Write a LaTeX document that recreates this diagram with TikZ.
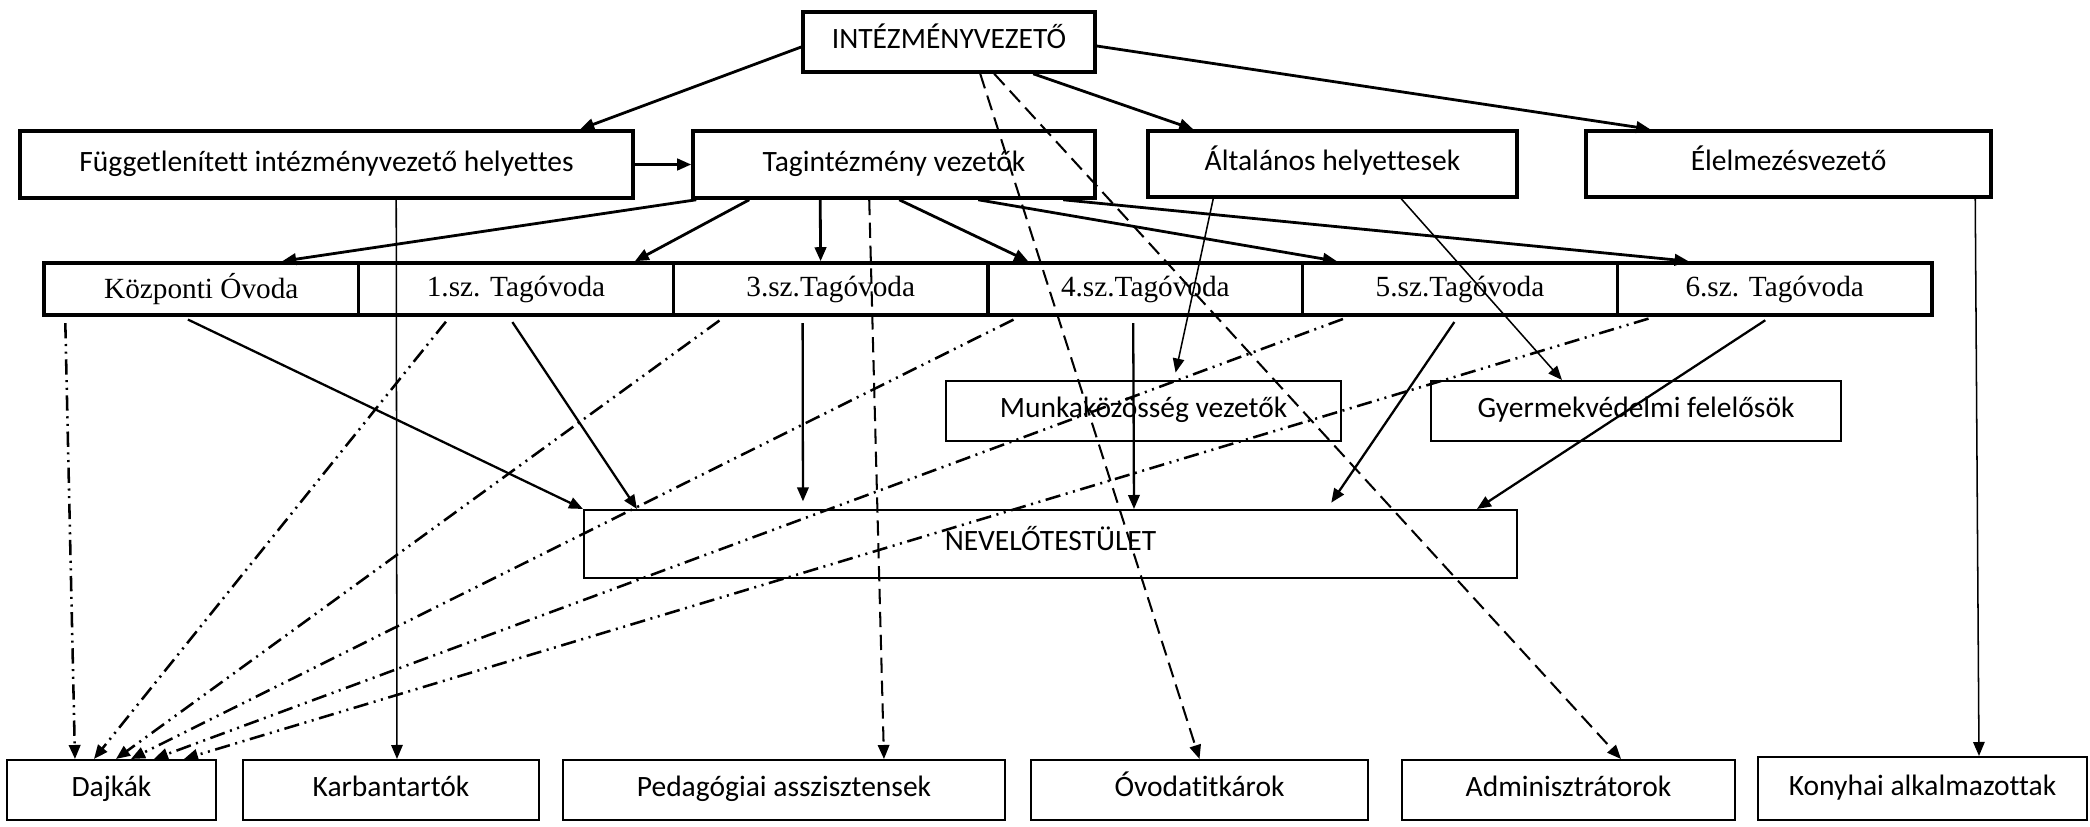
\documentclass[tikz,border=0pt]{standalone}
\usepackage{fontspec}
\setmainfont{Carlito}[Ligatures=CommonOff]
\newfontfamily\timesfont{Liberation Serif}
\usetikzlibrary{calc,arrows.meta}
\tikzset{
    >={Triangle[length=5.5pt,width=4.5pt]},
    box/.style={draw, inner sep=0pt, text height=7.5pt, text depth=2.3pt, font=\fontsize{11.6pt}{13pt}\selectfont},
    topbox/.style={box, line width=1.4pt},
    lowbox/.style={box, line width=0.8pt},
    ovbox/.style={draw, line width=1.4pt, inner sep=0pt, minimum height=52*0.393pt, minimum width=314.67*0.393pt, font=\timesfont\fontsize{11.5pt}{13pt}\selectfont},
    wd/.style={minimum width=#1*0.393pt},
    ht/.style={minimum height=#1*0.393pt},
    heavy/.style={line width=1.1pt},
    medium/.style={line width=0.9pt},
    light/.style={line width=0.6pt},
    dajkline/.style={line width=1pt, dash pattern=on 6pt off 2.2pt on 0.8pt off 2.2pt on 0.8pt off 2.2pt},
    longdash/.style={line width=0.8pt, dash pattern=on 6pt off 3pt},
}
\begin{document}
\begin{tikzpicture}[x=0.393pt, y=-0.393pt]
            \useasboundingbox (0,0) rectangle (2090,827);
            \node[topbox, wd=292, ht=60] (intv) at (949,42) {INTÉZMÉNYVEZETŐ};
            \node[topbox, wd=613, ht=67] (fugg) at (326.5,164.5) {Függetlenített intézményvezető helyettes};
            \node[topbox, wd=402, ht=67] (tagv) at (894,164.5) {Tagintézmény vezetők};
            \node[topbox, wd=369, ht=66] (altal) at (1332.5,164) {Általános helyettesek};
            \node[topbox, wd=405, ht=66] (elelm) at (1788.5,164) {Élelmezésvezető};
            % ovodak
            \node[ovbox] (kozp) at (201.3,289) {Központi Óvoda};
            \node[ovbox] (t1) at (516,289) {1.sz. Tagóvoda};
            \node[ovbox] (t3) at (830.7,289) {3.sz.Tagóvoda};
            \node[ovbox] (t4) at (1145.3,289) {4.sz.Tagóvoda};
            \node[ovbox] (t5) at (1460,289) {5.sz.Tagóvoda};
            \node[ovbox] (t6) at (1774.7,289) {6.sz. Tagóvoda};
            \node[lowbox, wd=395, ht=60] (munka) at (1143.5,411) {Munkaközösség vezetők};
            \node[lowbox, wd=410, ht=60] (gyerm) at (1636,411) {Gyermekvédelmi felelősök};
            \node[lowbox, wd=933, ht=68] (nevelo) at (1050.5,544) {NEVELŐTESTÜLET};
            % also sor
            \node[lowbox, wd=209, ht=60] (dajk) at (111.5,790) {Dajkák};
            \node[lowbox, wd=296, ht=60] (karb) at (391,790) {Karbantartók};
            \node[lowbox, wd=442, ht=60] (peda) at (784,790) {Pedagógiai asszisztensek};
            \node[lowbox, wd=337, ht=60] (ovtit) at (1199.5,790) {Óvodatitkárok};
            \node[lowbox, wd=333, ht=60] (admin) at (1568.5,790) {Adminisztrátorok};
            \node[lowbox, wd=329, ht=63] (konyha) at (1922.5,788.5) {Konyhai alkalmazottak};

            \draw[->, heavy] ($(intv.west)+(0,5)$) -- ($(fugg.north west)+(562,0)$);
            \draw[->, heavy] ($(intv.south west)+(232,0)$) -- ($(altal.north west)+(47,0)$);
            \draw[->, heavy] ($(intv.east)+(0,4)$) -- ($(elelm.north west)+(66,0)$);
            \draw[->, heavy] (fugg.east) -- (tagv.west);
            \draw[->, longdash] ($(intv.south west)+(179,0)$) -- (ovtit.north);
            \draw[->, longdash] ($(intv.south west)+(193,0)$) -- ($(admin.north west)+(220,0)$);
            \draw[->, longdash] ($(tagv.south west)+(178,0)$) -- ($(peda.north west)+(322,0)$);
            \draw[->, light] ($(fugg.south west)+(378,0)$) -- ($(karb.north west)+(155,0)$);
            \draw[->, light, shorten >=3pt] ($(altal.south west)+(67,0)$) -- ($(munka.north west)+(229,0)$);
            \draw[->, light] ($(altal.south west)+(255,0)$) -- ($(gyerm.north west)+(132,0)$);
            \draw[->, light] ($(elelm.south west)+(391,0)$) -- ($(konyha.north west)+(222,0)$);

            \draw[->, heavy] ($(tagv.south west)+(5,0)$) -- ($(kozp.north west)+(240,0)$);
            \draw[->, heavy] ($(tagv.south west)+(58,0)$) -- ($(t1.north west)+(278,0)$);
            \draw[->, heavy] ($(tagv.south west)+(129,0)$) -- ($(t3.north west)+(149,0)$);
            \draw[->, heavy] ($(tagv.south west)+(208,0)$) -- ($(t4.north west)+(42,0)$);
            \draw[->, heavy] ($(tagv.south west)+(287,0)$) -- ($(t5.north west)+(36,0)$);
            \draw[->, heavy] ($(tagv.south west)+(372,0)$) -- ($(t6.north west)+(73,0)$);

            \draw[->, medium, shorten <=2.5pt] ($(kozp.south west)+(140,0)$) -- (nevelo.north west);
            \draw[->, medium, shorten <=2.5pt] ($(t1.south west)+(152,0)$) -- ($(nevelo.north west)+(54,0)$);
            \draw[->, medium, shorten <=2.5pt, shorten >=3pt] ($(t3.south west)+(131,0)$) -- ($(nevelo.north west)+(220,0)$);
            \draw[->, medium, shorten <=2.5pt] ($(t4.south west)+(147,0)$) -- ($(nevelo.north west)+(551,0)$);
            \draw[->, medium, shorten <=2.5pt, shorten >=3pt] ($(t5.south west)+(157,0)$) -- ($(nevelo.north west)+(744,0)$);
            \draw[->, medium, shorten <=2.5pt] ($(t6.south west)+(155,0)$) -- ($(nevelo.north west)+(894,0)$);

            \draw[->, dajkline, shorten <=2.5pt] ($(kozp.south west)+(23,0)$) -- ($(dajk.north west)+(69,0)$);
            \draw[->, dajkline, shorten <=2.5pt] ($(t1.south west)+(93,0)$) -- ($(dajk.north west)+(88,0)$);
            \draw[->, dajkline, shorten <=2.5pt] ($(t3.south west)+(53,0)$) -- ($(dajk.north west)+(110,0)$);
            \draw[->, dajkline, shorten <=2.5pt] ($(t4.south west)+(33,0)$) -- ($(dajk.north west)+(125,0)$);
            \draw[->, dajkline, shorten <=2.5pt] ($(t5.south west)+(48,0)$) -- ($(dajk.north west)+(148,0)$);
            \draw[->, dajkline, shorten <=2.5pt] ($(t6.south west)+(39,0)$) -- ($(dajk.north west)+(178,0)$);

        \end{tikzpicture}
\end{document}
